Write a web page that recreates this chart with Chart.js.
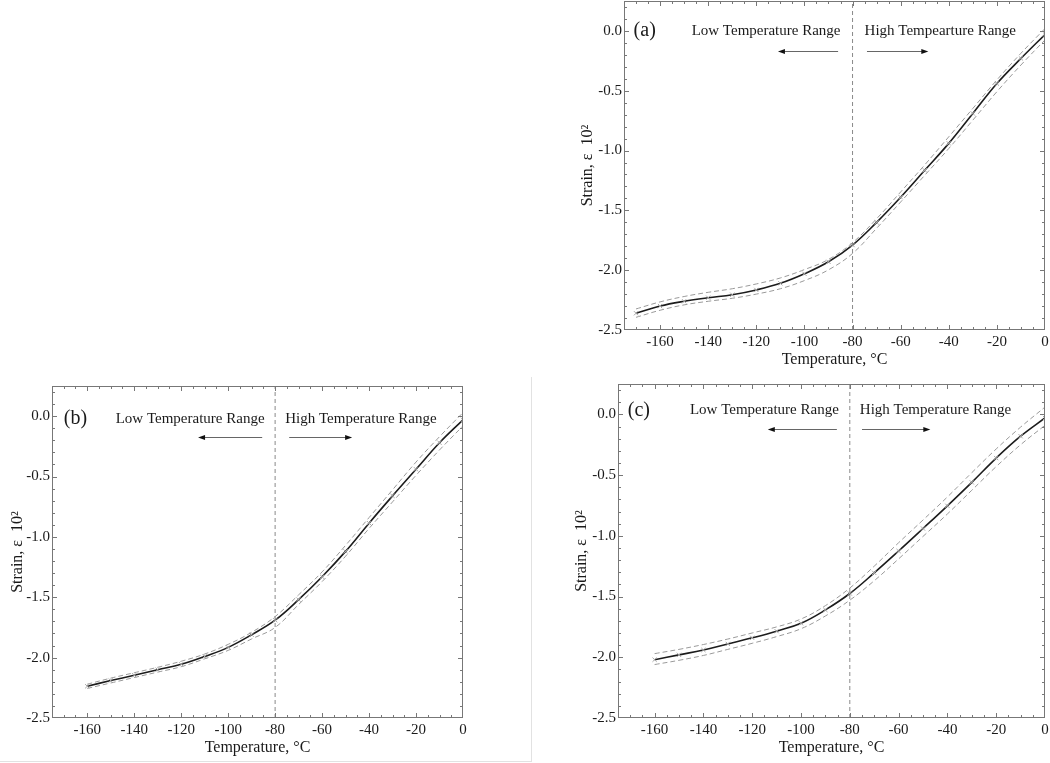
<!DOCTYPE html>
<html>
<head>
<meta charset="utf-8">
<script src="https://cdn.jsdelivr.net/npm/chart.js@4.4.1/dist/chart.umd.min.js"></script>
<style>
  body { margin: 0; background: #fff; width: 1050px; height: 763px; position: relative; overflow: hidden; }
  canvas { position: absolute; }
  #frameB { position: absolute; left: 0; top: 377px; width: 531px; height: 384px; border-right: 1px solid #e2e2e2; border-bottom: 1px solid #e2e2e2; }
</style>
</head>
<body>
<div id="frameB"></div>
<canvas id="chartA" width="490" height="385" style="left:560px;top:-5px"></canvas>
<canvas id="chartB" width="530" height="385" style="left:0px;top:378px"></canvas>
<canvas id="chartC" width="490" height="385" style="left:560px;top:378px"></canvas>
<script>
// data (temperature in °C, strain x 10^2)
const tempsA = [-170, -160, -150, -140, -130, -120, -110, -100, -90, -80, -70, -60, -50, -40, -30, -20, -10, 0];
const strainA = [-2.36, -2.30, -2.26, -2.23, -2.205, -2.165, -2.11, -2.03, -1.93, -1.79, -1.60, -1.39, -1.165, -0.94, -0.69, -0.44, -0.23, -0.03];
const upperA = [-2.324, -2.265, -2.22, -2.185, -2.155, -2.115, -2.065, -1.995, -1.91, -1.77, -1.57, -1.346, -1.12, -0.885, -0.648, -0.41, -0.187, 0.02];
const lowerA = [-2.394, -2.335, -2.29, -2.26, -2.235, -2.20, -2.155, -2.087, -1.997, -1.86, -1.65, -1.43, -1.207, -0.983, -0.746, -0.508, -0.285, -0.075];

const tempsBC = [-160, -150, -140, -130, -120, -110, -100, -90, -80, -70, -60, -50, -40, -30, -20, -10, 0];
const strainB = [-2.237, -2.19, -2.146, -2.10, -2.055, -1.99, -1.915, -1.81, -1.69, -1.52, -1.33, -1.12, -0.886, -0.66, -0.44, -0.22, -0.03];
const upperB = [-2.22, -2.17, -2.125, -2.08, -2.03, -1.97, -1.89, -1.79, -1.66, -1.48, -1.29, -1.07, -0.84, -0.61, -0.38, -0.17, 0.03];
const lowerB = [-2.255, -2.21, -2.165, -2.12, -2.075, -2.01, -1.94, -1.845, -1.75, -1.56, -1.37, -1.16, -0.93, -0.71, -0.49, -0.28, -0.08];

const strainC = [-2.02, -1.98, -1.94, -1.89, -1.84, -1.785, -1.72, -1.61, -1.475, -1.305, -1.125, -0.94, -0.753, -0.56, -0.36, -0.18, -0.03];
const upperC = [-1.97, -1.935, -1.895, -1.85, -1.80, -1.75, -1.685, -1.575, -1.43, -1.25, -1.057, -0.87, -0.68, -0.48, -0.285, -0.105, 0.06];
const lowerC = [-2.06, -2.025, -1.985, -1.935, -1.885, -1.83, -1.765, -1.66, -1.53, -1.37, -1.19, -1.005, -0.82, -0.625, -0.43, -0.25, -0.09];

const xMin = -175, xMax = 0, xStep = 20;
const yMin = -2.5, yMax = 0.25, yStep = 0.5;
const splitTemp = -80;

const serif = '"Liberation Serif", "Times New Roman", serif';

const toPoints = (xs, ys) => xs.map((t, i) => ({ x: t, y: ys[i] }));

// frame with inward ticks, plus the panel texts and arrows
const framePlugin = {
  id: 'frame',
  afterDraw(chart, args, opts) {
    const { ctx, chartArea: a, scales: { x, y } } = chart;
    ctx.save();
    ctx.strokeStyle = '#777';
    ctx.lineWidth = 1;
    ctx.strokeRect(a.left + 0.5, a.top + 0.5, a.right - a.left - 1, a.bottom - a.top - 1);

    ctx.beginPath();
    for (let v = xMin + 5; v < xMax; v += 5) {
      const px = Math.round(x.getPixelForValue(v)) + 0.5;
      const len = v % xStep === 0 ? 5 : 3;
      ctx.moveTo(px, a.bottom); ctx.lineTo(px, a.bottom - len);
      ctx.moveTo(px, a.top); ctx.lineTo(px, a.top + len);
    }
    for (let i = 1; yMin + i * 0.1 < yMax - 1e-6; i++) {
      const v = yMin + i * 0.1;
      const py = Math.round(y.getPixelForValue(v)) + 0.5;
      const major = Math.abs(v / yStep - Math.round(v / yStep)) < 1e-6;
      const len = major ? 5 : 3;
      ctx.moveTo(a.left, py); ctx.lineTo(a.left + len, py);
      ctx.moveTo(a.right, py); ctx.lineTo(a.right - len, py);
    }
    ctx.stroke();

    ctx.fillStyle = '#1a1a1a';
    ctx.textBaseline = 'middle';
    ctx.font = '20px ' + serif;
    ctx.textAlign = 'left';
    ctx.fillText(opts.tag, x.getPixelForValue(opts.tagX), y.getPixelForValue(opts.textY));
    ctx.font = '15px ' + serif;
    ctx.textAlign = 'right';
    ctx.fillText(opts.lowText, x.getPixelForValue(opts.lowRight), y.getPixelForValue(opts.textY));
    ctx.textAlign = 'left';
    ctx.fillText(opts.highText, x.getPixelForValue(opts.highLeft), y.getPixelForValue(opts.textY));

    const ay = Math.round(y.getPixelForValue(opts.arrowY)) + 0.5;
    const arrow = (from, to) => {
      const x0 = x.getPixelForValue(from), x1 = x.getPixelForValue(to);
      const dir = Math.sign(x1 - x0);
      ctx.strokeStyle = '#666';
      ctx.beginPath(); ctx.moveTo(x0, ay); ctx.lineTo(x1 - dir * 5, ay); ctx.stroke();
      ctx.fillStyle = '#111';
      ctx.beginPath(); ctx.moveTo(x1, ay); ctx.lineTo(x1 - dir * 7, ay - 2.5); ctx.lineTo(x1 - dir * 7, ay + 2.5); ctx.closePath(); ctx.fill();
    };
    arrow(opts.leftArrow[0], opts.leftArrow[1]);
    arrow(opts.rightArrow[0], opts.rightArrow[1]);
    ctx.restore();
  }
};

function makePanel(id, temps, main, upper, lower, look) {
  const ctx = document.getElementById(id).getContext('2d');
  const band = {
    borderColor: '#9a9a9a', borderWidth: 1, borderDash: [5, 3],
    pointRadius: 0, tension: 0.4, fill: false
  };
  return new Chart(ctx, {
    type: 'line',
    data: {
      datasets: [
        { ...band, label: 'upper', data: toPoints(temps, upper) },
        { ...band, label: 'lower', data: toPoints(temps, lower) },
        {
          label: 'strain',
          data: toPoints(temps, main),
          borderColor: '#1c1c1c', borderWidth: 1.6,
          pointStyle: 'crossRot', pointRadius: 3, pointBorderWidth: 1,
          pointBorderColor: '#a8a8a8', pointBackgroundColor: '#a8a8a8',
          tension: 0.4, fill: false
        },
        {
          label: 'split',
          data: [{ x: splitTemp, y: yMin }, { x: splitTemp, y: yMax }],
          borderColor: '#8a8a8a', borderWidth: 1, borderDash: [4, 3],
          pointRadius: 0, fill: false
        }
      ]
    },
    options: {
      responsive: false,
      animation: false,
      devicePixelRatio: 1,
      layout: { padding: look.padding },
      plugins: { legend: { display: false }, tooltip: { enabled: false }, frame: look.text },
      scales: {
        x: {
          type: 'linear', min: xMin, max: xMax,
          grid: { display: false, drawTicks: false }, border: { display: false },
          afterFit: s => { s.height = look.xHeight; s.paddingLeft = 0; s.paddingRight = 0; },
          ticks: {
            stepSize: xStep, includeBounds: false, padding: 3,
            color: '#1a1a1a', font: { family: serif, size: 15 },
            callback: v => String(v)
          },
          title: {
            display: true, text: 'Temperature, °C', color: '#1a1a1a',
            font: { family: serif, size: 16 }, padding: { top: 0, bottom: look.xTitlePad }
          }
        },
        y: {
          min: yMin, max: yMax,
          grid: { display: false, drawTicks: false }, border: { display: false },
          afterFit: s => { s.width = look.yWidth; s.paddingTop = 0; s.paddingBottom = 0; },
          ticks: {
            stepSize: yStep, includeBounds: false, padding: 2,
            color: '#1a1a1a', font: { family: serif, size: 15 },
            callback: v => v.toFixed(1)
          },
          title: {
            display: true, text: 'Strain, ε  10²', color: '#1a1a1a',
            font: { family: serif, size: 16 }, padding: { top: look.yTitlePad, bottom: 0 }
          }
        }
      }
    },
    plugins: [framePlugin]
  });
}

makePanel('chartA', tempsA, strainA, upperA, lowerA, {
  padding: { top: 6, right: 4, left: 0, bottom: 0 },
  xHeight: 50, yWidth: 64, xTitlePad: 11, yTitlePad: 18,
  text: {
    tag: '(a)', tagX: -171, textY: 0.0,
    lowText: 'Low Temperature Range', lowRight: -85,
    highText: 'High Tempearture Range', highLeft: -75,
    arrowY: -0.168, leftArrow: [-86, -111], rightArrow: [-74, -48.5]
  }
});

makePanel('chartB', tempsBC, strainB, upperB, lowerB, {
  padding: { top: 8, right: 67, left: 0, bottom: 0 },
  xHeight: 45, yWidth: 52, xTitlePad: 6, yTitlePad: 8,
  text: {
    tag: '(b)', tagX: -170, textY: -0.025,
    lowText: 'Low Temperature Range', lowRight: -84.5,
    highText: 'High Temperature Range', highLeft: -75.7,
    arrowY: -0.174, leftArrow: [-85.5, -112.8], rightArrow: [-74, -47.2]
  }
});

makePanel('chartC', tempsBC, strainC, upperC, lowerC, {
  padding: { top: 6, right: 5, left: 0, bottom: 0 },
  xHeight: 45, yWidth: 58, xTitlePad: 6, yTitlePad: 12,
  text: {
    tag: '(c)', tagX: -171, textY: 0.033,
    lowText: 'Low Temperature Range', lowRight: -84.5,
    highText: 'High Temperature Range', highLeft: -75.9,
    arrowY: -0.124, leftArrow: [-85.3, -113.6], rightArrow: [-75, -47]
  }
});
</script>
</body>
</html>
